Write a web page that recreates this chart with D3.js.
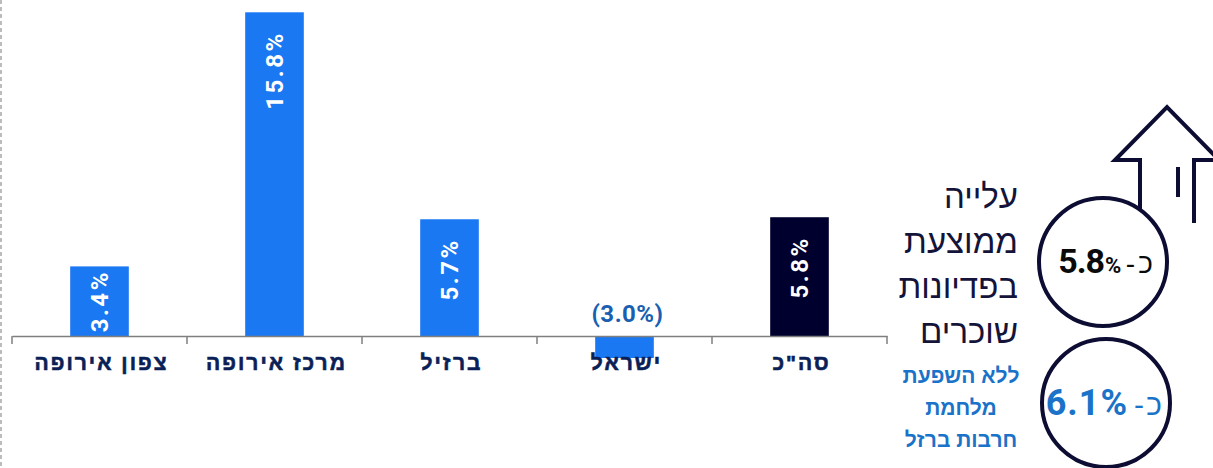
<!DOCTYPE html>
<html>
<head>
<meta charset="utf-8">
<script src="https://cdn.jsdelivr.net/npm/d3@7"></script>
<style>
  body { margin: 0; background: #fff; }
  svg { display: block; }
</style>
</head>
<body>
<svg id="chart" width="1213" height="468"></svg>
<script>
// data, in reading order (right to left)
const categories = ['סה"כ', 'ישראל', 'ברזיל', 'מרכז אירופה', 'צפון אירופה'];
const values = [5.8, -3.0, 5.7, 15.8, 3.4];
const barColors = ['#00002e', '#1a78f2', '#1a78f2', '#1a78f2', '#1a78f2'];

const headlineLines = ['עלייה', 'ממוצעת', 'בפדיונות', 'שוכרים'];
const noteLines = ['ללא השפעת', 'מלחמת', 'חרבות ברזל'];
const avgValue = '5.8';
const avgNoWarValue = '6.1';

const HEB = '"Liberation Sans", "DejaVu Sans", Arial, sans-serif';
const NUM = 'Roboto, "Liberation Sans", Arial, sans-serif';
const navy = '#0b1f57';

const svg = d3.select('#chart');

// dashed frame line on the left
svg.append('line')
  .attr('x1', 1).attr('x2', 1).attr('y1', 0).attr('y2', 468)
  .style('stroke', '#a6a6a6')
  .style('stroke-width', 1.5)
  .style('stroke-dasharray', '4,3');

var x = d3.scaleBand().domain(categories).range([887, 12]).padding(0);
// the plot area is cut just under zero, so negative bars are clipped
var y = d3.scaleLinear().domain([-1.07, 16.4]).range([358, 0]).clamp(true);
const barW = x.bandwidth() * 0.335;

const data = categories.map((c, i) => ({ cat: c, value: values[i], color: barColors[i] }));

const g = svg.append('g').attr('class', 'bars');

g.selectAll('rect')
  .data(data)
  .enter()
  .append('rect')
  .attr('x', d => x(d.cat) + (x.bandwidth() - barW) / 2)
  .attr('width', barW)
  .attr('y', d => Math.min(y(d.value), y(0)))
  .attr('height', d => Math.abs(y(d.value) - y(0)))
  .style('fill', d => d.color);

// axis: line + ticks at band boundaries
const axis = d3.axisBottom(x).tickSize(0).tickSizeOuter(0).tickFormat('');
const ax = svg.append('g').attr('transform', `translate(0,${y(0)})`).call(axis);
ax.select('.domain').style('stroke', '#7f7f7f').style('stroke-width', 1.5);

const bounds = categories.map(c => x(c)).concat([x.range()[0]]);
ax.selectAll('line.bound')
  .data(bounds)
  .enter()
  .append('line')
  .attr('class', 'bound')
  .attr('x1', d => d).attr('x2', d => d)
  .attr('y1', 0).attr('y2', 8)
  .style('stroke', '#7f7f7f')
  .style('stroke-width', 1.5);

// category labels
svg.append('g')
  .selectAll('text')
  .data(data)
  .enter()
  .append('text')
  .attr('x', d => x(d.cat) + x.bandwidth() / 2 + 2)
  .attr('y', 370)
  .attr('text-anchor', 'middle')
  .style('font-family', HEB)
  .style('font-weight', 'bold')
  .style('font-size', '21px')
  .style('letter-spacing', '2px')
  .style('fill', navy)
  .style('stroke', navy)
  .style('stroke-width', 0.6)
  .text(d => d.cat);

// value labels
const pos = data.filter(d => d.value >= 0);
svg.append('g')
  .selectAll('text')
  .data(pos)
  .enter()
  .append('text')
  .attr('transform', d => {
    const cx = x(d.cat) + x.bandwidth() / 2;
    const h = y(0) - y(d.value);
    const ty = h < 90 ? (y(0) + y(d.value)) / 2 : y(d.value) + 19;
    return `translate(${cx},${ty}) rotate(-90)`;
  })
  .attr('text-anchor', d => (y(0) - y(d.value) < 90 ? 'middle' : 'end'))
  .attr('dy', '0.36em')
  .style('font-family', NUM)
  .style('font-weight', 'bold')
  .style('font-size', '24px')
  .style('letter-spacing', '2.5px')
  .style('fill', '#fff')
  .text(d => d.value.toFixed(1) + '%');

svg.append('g')
  .selectAll('text')
  .data(data.filter(d => d.value < 0))
  .enter()
  .append('text')
  .attr('x', d => x(d.cat) + x.bandwidth() / 2 + 3)
  .attr('y', 322)
  .attr('text-anchor', 'middle')
  .style('font-family', NUM)
  .style('font-weight', 'bold')
  .style('font-size', '24px')
  .style('letter-spacing', '0.5px')
  .style('fill', '#1a5fb0')
  .text(d => '(' + Math.abs(d.value).toFixed(1) + '%)');

// right side panel
const side = svg.append('g').attr('class', 'side');

side.append('path')
  .attr('d', 'M1140,210 L1140,160 L1115,160 L1167,107 L1219,160 L1194,160 L1194,223 M1178,167 L1178,197')
  .style('fill', 'none')
  .style('stroke', '#0d0d33')
  .style('stroke-width', 4);

side.selectAll('circle')
  .data([[1103, 262], [1106, 403]])
  .enter()
  .append('circle')
  .attr('cx', d => d[0]).attr('cy', d => d[1]).attr('r', 64)
  .style('fill', '#fff')
  .style('stroke', '#0d0d33')
  .style('stroke-width', 4);

side.selectAll('text.head')
  .data(headlineLines)
  .enter()
  .append('text')
  .attr('class', 'head')
  .attr('x', 1018)
  .attr('y', (d, i) => 208 + i * 45)
  .attr('text-anchor', 'end')
  .style('font-family', HEB)
  .style('font-weight', 300)
  .style('font-size', '33px')
  .style('fill', '#14143a')
  .text(d => d);

side.selectAll('text.note')
  .data(noteLines)
  .enter()
  .append('text')
  .attr('class', 'note')
  .attr('x', 961)
  .attr('y', (d, i) => 383 + i * 32)
  .attr('text-anchor', 'middle')
  .style('font-family', HEB)
  .style('font-weight', 'bold')
  .style('font-size', '21px')
  .style('fill', '#1a73c8')
  .text(d => d);

// circle 1: "כ- 5.8%"
side.append('text').attr('x', 1104).attr('y', 273).attr('text-anchor', 'end')
  .style('font-family', NUM).style('font-weight', 'bold').style('font-size', '34px')
  .style('letter-spacing', '-1px').style('fill', '#0a0a0a').text(avgValue);
side.append('text').attr('x', 1105).attr('y', 273).attr('text-anchor', 'start')
  .style('font-family', NUM).style('font-weight', 'bold').style('font-size', '22px')
  .style('fill', '#0a0a0a').text('%');
side.append('text').attr('x', 1135).attr('y', 273).attr('text-anchor', 'end')
  .style('font-family', HEB).style('font-size', '28px').style('fill', '#0a0a0a').text('-');
side.append('text').attr('x', 1153).attr('y', 273).attr('text-anchor', 'end')
  .style('font-family', HEB).style('font-size', '28px').style('fill', '#0a0a0a').text('כ');

// circle 2: "כ- 6.1%"
side.append('text').attr('x', 1128).attr('y', 415).attr('text-anchor', 'end')
  .style('font-family', NUM).style('font-weight', 'bold').style('font-size', '36px')
  .style('letter-spacing', '1px').style('fill', '#1a73c8').text(avgNoWarValue + '%');
side.append('text').attr('x', 1144).attr('y', 415).attr('text-anchor', 'end')
  .style('font-family', HEB).style('font-size', '30px').style('fill', '#1a73c8').text('-');
side.append('text').attr('x', 1162).attr('y', 415).attr('text-anchor', 'end')
  .style('font-family', HEB).style('font-size', '30px').style('fill', '#1a73c8').text('כ');
</script>
</body>
</html>
